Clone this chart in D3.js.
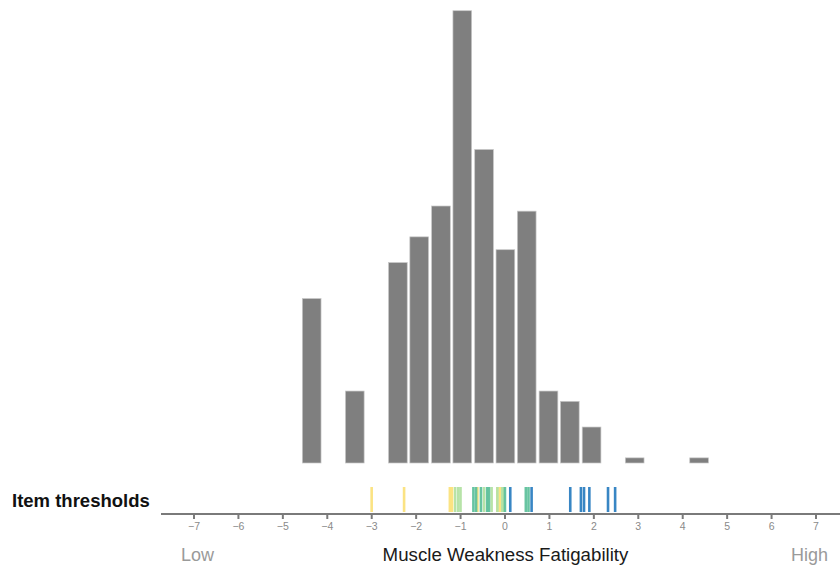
<!DOCTYPE html>
<html>
<head>
<meta charset="utf-8">
<script src="https://cdn.jsdelivr.net/npm/d3@7"></script>
<style>
  body { margin: 0; background: #fff; }
  svg { font-family: "Liberation Sans", Arial, sans-serif; }
</style>
</head>
<body>
<div id="chart"></div>
<script>
// histogram bins (centre on the logit scale) and person counts
const binCenters = [-4.34, -3.37, -2.40, -1.92, -1.43, -0.95, -0.46, 0.02, 0.50, 0.99, 1.47, 1.96, 2.93, 4.38];
const binCounts = [32, 14, 39, 44, 50, 88, 61, 41.5, 49, 14, 12, 7, 1, 1];
const binWidth = 0.484;

// item thresholds, grouped by threshold number (1 = lowest category step)
const threshold1 = [-2.99, -2.26, -1.23, -1.18, -0.61, -0.16, -0.10];
const threshold2 = [-1.11, -1.04, -0.99, -0.46, -0.29, -0.16, -0.05, -0.02];
const threshold3 = [-0.70, -0.64, -0.53, -0.39, -0.35, 0.01, 0.48, 0.54];
const threshold4 = [0.13, 0.61, 1.48, 1.72, 1.79, 1.91, 2.33, 2.49];
const thresholdColors = ['#fbe27c', '#b3e2a3', '#5fc19c', '#2d7fc1'];

const axisTicks = d3.range(-7, 8);

const width = 840;
const height = 572;

const svg = d3.select('#chart').append('svg')
  .attr('width', width)
  .attr('height', height);

const x = d3.scaleLinear().domain([-7, 7]).range([193.5, 815.5]);
const y = d3.scaleLinear().domain([0, 88]).range([463, 10.7]);

const axisY = 514;

// bars
svg.append('g').selectAll('rect')
  .data(binCenters.map((c, i) => ({ c, n: binCounts[i] })))
  .enter()
  .append('rect')
  .attr('x', d => x(d.c - binWidth * 0.435))
  .attr('width', d => x(binWidth * 0.87) - x(0))
  .attr('y', d => y(d.n))
  .attr('height', d => y(0) - y(d.n))
  .attr('fill', '#7f7f7f')
  .attr('stroke', '#c8c8c8')
  .attr('stroke-width', 0.7);

// thresholds
const thresholds = [threshold1, threshold2, threshold3, threshold4]
  .flatMap((arr, k) => arr.map(v => ({ v, k })));

svg.append('g').selectAll('line')
  .data(thresholds)
  .enter()
  .append('line')
  .attr('x1', d => x(d.v))
  .attr('x2', d => x(d.v))
  .attr('y1', 487)
  .attr('y2', axisY - 2)
  .attr('stroke', d => thresholdColors[d.k])
  .attr('stroke-width', 2.6)
  .attr('stroke-opacity', 0.95);

svg.append('text')
  .attr('x', 12)
  .attr('y', 507)
  .attr('font-size', 18.5)
  .attr('font-weight', 'bold')
  .attr('fill', '#111')
  .text('Item thresholds');

// axis
const axis = d3.axisBottom(x)
  .tickValues(axisTicks)
  .tickSize(5)
  .tickPadding(4)
  .tickFormat(d3.format('d'));

const gAxis = svg.append('g')
  .attr('transform', `translate(0,${axisY})`)
  .call(axis);

gAxis.select('.domain').remove();
gAxis.insert('line', ':first-child')
  .attr('x1', 161).attr('x2', width)
  .attr('stroke', '#7a7a7a')
  .attr('stroke-width', 2.2);
gAxis.selectAll('.tick line').attr('stroke', '#7a7a7a').attr('stroke-width', 2);
gAxis.selectAll('.tick text')
  .attr('fill', '#8a8a8a')
  .attr('font-size', 10.5)
  .attr('font-family', '"Liberation Sans", Arial, sans-serif');

svg.append('text')
  .attr('x', 181)
  .attr('y', 561)
  .attr('font-size', 18)
  .attr('fill', '#9a9a9a')
  .text('Low');

svg.append('text')
  .attr('x', 828)
  .attr('y', 561)
  .attr('text-anchor', 'end')
  .attr('font-size', 18)
  .attr('fill', '#9a9a9a')
  .text('High');

svg.append('text')
  .attr('x', 505.5)
  .attr('y', 561)
  .attr('text-anchor', 'middle')
  .attr('font-size', 18.7)
  .attr('fill', '#1a1a1a')
  .text('Muscle Weakness Fatigability');
</script>
</body>
</html>
